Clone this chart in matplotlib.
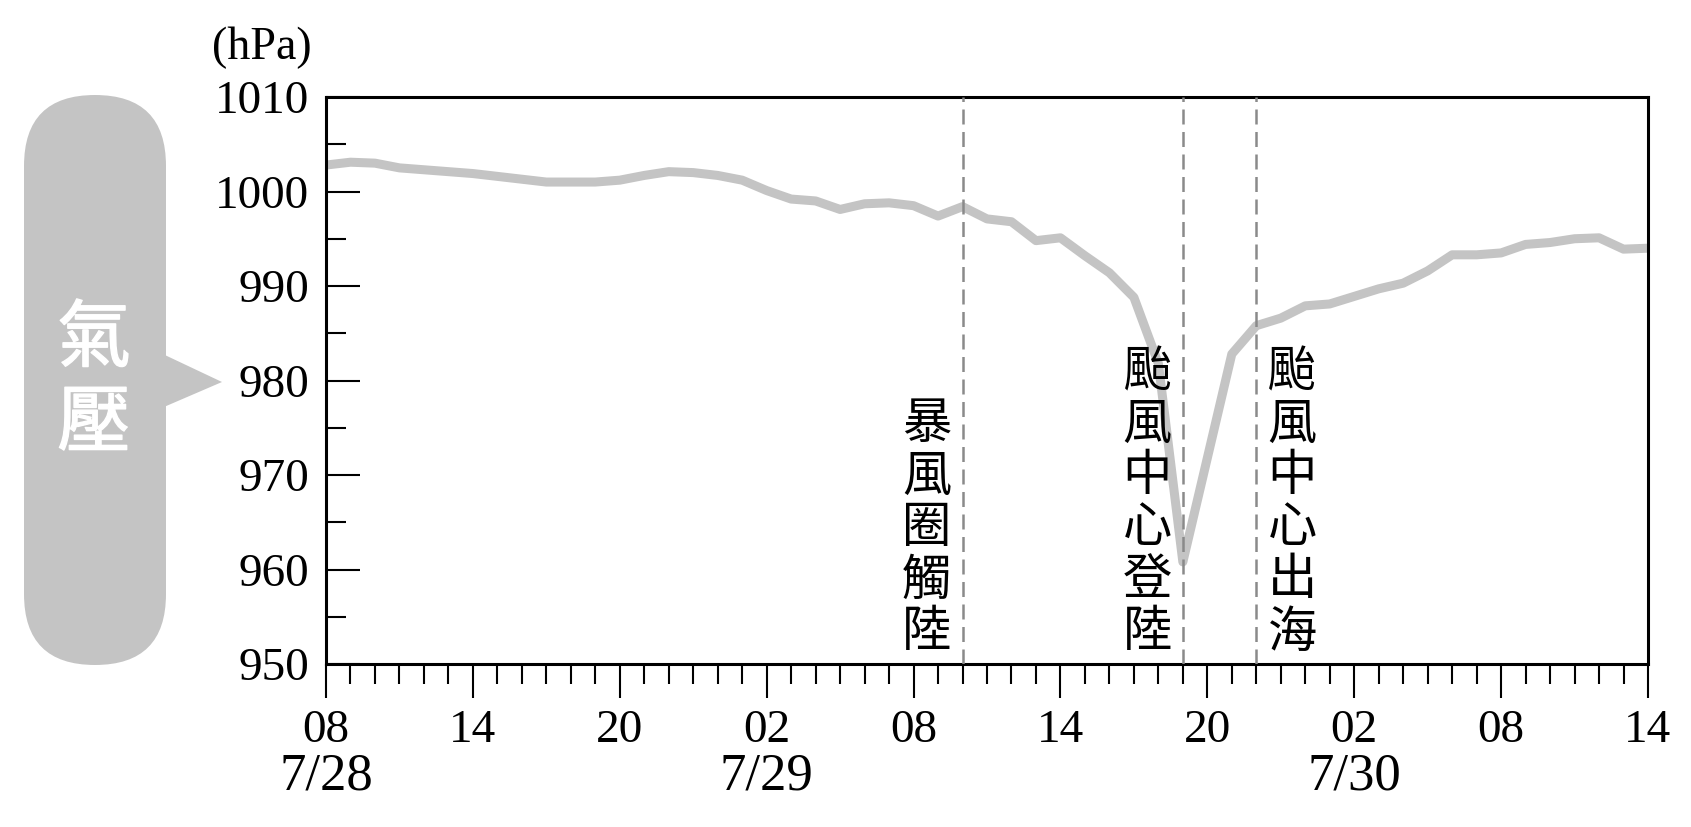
import matplotlib
matplotlib.use("Agg")
import matplotlib.pyplot as plt
import matplotlib.patheffects as pe
from matplotlib.patches import FancyBboxPatch, Polygon
from matplotlib.ticker import MultipleLocator, FixedLocator

# ---------------- data ----------------
hours = list(range(0, 55))  # hours after 7/28 08:00
pressure = [1002.8, 1003.1, 1003.0, 1002.5, 1002.3, 1002.1, 1001.9, 1001.6, 1001.3, 1001.0,
            1001.0, 1001.0, 1001.2, 1001.7, 1002.1, 1002.0, 1001.7, 1001.2, 1000.1, 999.2,
            999.0, 998.1, 998.7, 998.8, 998.5, 997.4, 998.4, 997.1, 996.8, 994.8,
            995.1, 993.2, 991.4, 988.8, 981.8, 960.8, 971.8, 982.8, 985.8, 986.6,
            987.9, 988.1, 988.9, 989.7, 990.3, 991.6, 993.3, 993.3, 993.5, 994.4,
            994.6, 995.0, 995.1, 993.9, 994.0]
tick_hours = [0, 6, 12, 18, 24, 30, 36, 42, 48, 54]
tick_labels = ["08", "14", "20", "02", "08", "14", "20", "02", "08", "14"]
date_hours = [0, 18, 42]
date_labels = ["7/28", "7/29", "7/30"]
event_hours = [26, 35, 38]
event_labels = ["暴風圈觸陸", "颱風中心登陸", "颱風中心出海"]
y_unit = "(hPa)"
badge_label = "氣壓"

# ---------------- style ----------------
SERIF = ["Liberation Serif", "DejaVu Serif"]
CJK = ["Noto Sans CJK TC", "DejaVu Sans"]
event_side = [-1, -1, 1]
LINE_GRAY = "#c4c4c4"
DASH_GRAY = "#8a8a8a"

W, H = 1691, 827
fig = plt.figure(figsize=(W / 100, H / 100), dpi=100)

# background overlay in pixel coordinates (badge)
bg = fig.add_axes([0, 0, 1, 1], zorder=-5)
bg.set_xlim(0, W)
bg.set_ylim(H, 0)
bg.axis("off")
bg.add_patch(FancyBboxPatch((24, 95), 142, 570,
                            boxstyle="round,pad=0,rounding_size=71",
                            facecolor=LINE_GRAY, edgecolor="none"))
bg.add_patch(Polygon([(150, 348), (222, 382), (150, 413)], closed=True,
                     facecolor=LINE_GRAY, edgecolor="none"))
thick = [pe.withStroke(linewidth=1.0, foreground="white")]
bg.text(94, 340, badge_label[0], ha="center", va="center", fontsize=53,
        fontweight="medium", color="white", family=CJK, path_effects=thick)
bg.text(94, 425, badge_label[1], ha="center", va="center", fontsize=53,
        fontweight="medium", color="white", family=CJK, path_effects=thick)

# main axes
ax = fig.add_axes([326 / W, 1 - 664 / H, 1322 / W, 567 / H])
ax.plot(hours, pressure, color=LINE_GRAY, lw=6.5, solid_joinstyle="round",
        solid_capstyle="butt", zorder=2)

for h, lbl, side in zip(event_hours, event_labels, event_side):
    ax.axvline(h, color=DASH_GRAY, lw=1.8, dashes=(6, 3), zorder=3)
    ax.annotate("\n".join(lbl), xy=(h, 950), xycoords="data",
                xytext=(side * 8, 4), textcoords="offset points",
                ha="right" if side < 0 else "left", va="bottom",
                fontsize=35.5, fontweight="medium", family=CJK, linespacing=1.0,
                color="black")

ax.set_xlim(0, 54)
ax.set_ylim(950, 1010)
ax.xaxis.set_major_locator(FixedLocator(tick_hours))
ax.set_xticklabels(tick_labels)
ax.xaxis.set_minor_locator(MultipleLocator(1))
ax.yaxis.set_major_locator(MultipleLocator(10))
ax.yaxis.set_minor_locator(MultipleLocator(5))

ax.tick_params(axis="x", which="major", direction="out", length=24.5, width=1.5,
               pad=8, labelsize=34)
ax.tick_params(axis="x", which="minor", direction="out", length=14.4, width=1.5)
ax.tick_params(axis="y", which="major", direction="in", length=24.5, width=1.5,
               pad=12, labelsize=34)
ax.tick_params(axis="y", which="minor", direction="in", length=14.4, width=1.5)
for lab in ax.get_xticklabels() + ax.get_yticklabels():
    lab.set_family(SERIF)
for sp in ax.spines.values():
    sp.set_linewidth(2.2)

for h, lbl in zip(date_hours, date_labels):
    ax.text(h, -0.198, lbl, transform=ax.get_xaxis_transform(), ha="center",
            va="center", fontsize=38, family=SERIF)

fig.text(262 / W, 1 - 48 / H, y_unit, ha="center", va="center", fontsize=33,
         family=SERIF)

fig.savefig("out.png", dpi=100)
